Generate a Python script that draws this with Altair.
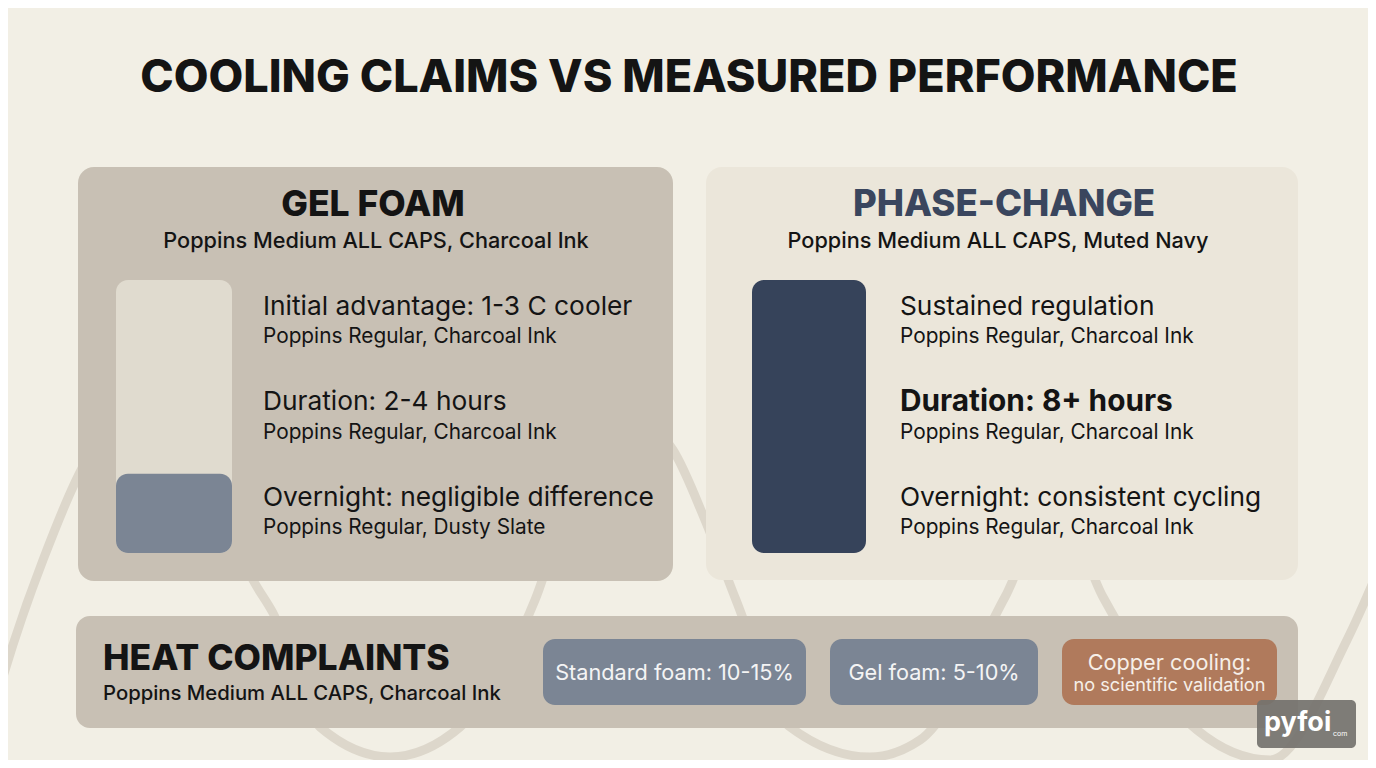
import altair as alt
import pandas as pd

W, H = 1376, 768
M = 8  # body margin of the page

BG = "#f2efe5"
TAUPE = "#c8c0b4"
CREAM = "#ebe6da"
TRACK = "#e0dbcf"
SLATE = "#7b8594"
NAVY = "#36435a"
NAVY_TXT = "#3a465e"
COPPER = "#b07a5c"
INK = "#141414"
WAVE = "#ddd7cb"
FONT = "Inter"

# ---------------------------------------------------------------- data
title = "COOLING CLAIMS VS MEASURED PERFORMANCE"

panel_names = ["GEL FOAM", "PHASE-CHANGE"]
panel_notes = ["Poppins Medium ALL CAPS, Charcoal Ink",
               "Poppins Medium ALL CAPS, Muted Navy"]
# how much of each cooling bar stays filled overnight
bar_fill = [0.29, 1.0]

gel_lines = ["Initial advantage: 1-3 C cooler", "Duration: 2-4 hours",
             "Overnight: negligible difference"]
gel_notes = ["Poppins Regular, Charcoal Ink", "Poppins Regular, Charcoal Ink",
             "Poppins Regular, Dusty Slate"]
pcm_lines = ["Sustained regulation", "Duration: 8+ hours",
             "Overnight: consistent cycling"]
pcm_notes = ["Poppins Regular, Charcoal Ink", "Poppins Regular, Charcoal Ink",
             "Poppins Regular, Charcoal Ink"]

complaint_title = "HEAT COMPLAINTS"
complaint_note = "Poppins Medium ALL CAPS, Charcoal Ink"
pill_labels = ["Standard foam: 10-15%", "Gel foam: 5-10%", "Copper cooling:"]
pill_sub = ["", "", "no scientific validation"]

# decorative background wave
wave_x = [-20, 0, 43, 100, 150, 200, 253, 273, 320, 390, 460, 535, 580, 635,
          673, 705, 736, 790, 870, 920, 1005, 1055, 1103, 1197, 1270, 1347, 1395]
wave_y = [760, 687, 560, 440, 410, 450, 580, 613, 727, 757, 727, 600, 470, 420,
          450, 520, 600, 727, 757, 740, 597, 500, 597, 730, 760, 640, 530]

# ---------------------------------------------------------------- helpers
SX = alt.Scale(domain=[M, W - M])
SY = alt.Scale(domain=[H - M, M])


def box(x0, x1, y0, y1, color, radius, opacity=1.0):
    df = pd.DataFrame({"x0": [x0], "x1": [x1], "y0": [y0], "y1": [y1]})
    return alt.Chart(df).mark_rect(
        color=color, cornerRadius=radius, opacity=opacity
    ).encode(
        alt.X("x0:Q", scale=SX, axis=None), x2="x1:Q",
        y=alt.Y("y0:Q", scale=SY, axis=None), y2="y1:Q",
    )


def label(x, y, text, size, weight=400, color=INK, align="left"):
    df = pd.DataFrame({"x": [x], "y": [y], "t": [text]})
    return alt.Chart(df).mark_text(
        font=FONT, fontSize=size, fontWeight=weight, color=color,
        align=align, baseline="middle"
    ).encode(
        alt.X("x:Q", scale=SX, axis=None),
        alt.Y("y:Q", scale=SY, axis=None),
        text="t:N",
    )


def fill_bar(x0, x1, top, bottom, frac, color):
    df = pd.DataFrame({"x0": [x0], "x1": [x1], "v": [frac]})
    return alt.Chart(df).mark_rect(color=color, cornerRadius=12).encode(
        alt.X("x0:Q", scale=SX, axis=None), x2="x1:Q",
        y=alt.Y("v:Q", axis=None,
                scale=alt.Scale(domain=[0, 1], range=[bottom - M, top - M])),
        y2=alt.datum(0),
    )


# ---------------------------------------------------------------- layers
wave_df = pd.DataFrame({"x": wave_x, "y": wave_y, "i": range(len(wave_x))})
wave = alt.Chart(wave_df).mark_line(
    color=WAVE, strokeWidth=9, interpolate="monotone", clip=True, strokeCap="round"
).encode(
    alt.X("x:Q", scale=SX, axis=None),
    alt.Y("y:Q", scale=SY, axis=None),
    order="i:Q",
)

layers = [wave]
layers.append(label(689, 78, title, 45, 800, INK, "center"))

# panels
layers += [
    box(78, 673, 167, 581, TAUPE, 16),
    box(706, 1298, 167, 580, CREAM, 16),
    box(76, 1298, 616, 728, TAUPE, 14),
]

# gel foam panel
layers.append(label(373, 205, panel_names[0], 35.5, 800, INK, "center"))
layers.append(label(376, 241, panel_notes[0], 21.7, 500, INK, "center"))
layers.append(box(116, 232, 280, 553, TRACK, 12))
layers.append(fill_bar(116, 232, 280, 553, bar_fill[0], SLATE))

# phase change panel
layers.append(label(1004, 205, panel_names[1], 36.5, 800, NAVY_TXT, "center"))
layers.append(label(998, 241, panel_notes[1], 21.7, 500, INK, "center"))
layers.append(fill_bar(752, 866, 280, 553, bar_fill[1], NAVY))

row_y = [307, 402, 498]
note_y = [337, 433, 528]
for i in range(3):
    layers.append(label(263, row_y[i], gel_lines[i], 26.3))
    layers.append(label(263, note_y[i], gel_notes[i], 20.8))
    layers.append(label(900, row_y[i], pcm_lines[i], 29.8 if i == 1 else 26.3,
                        700 if i == 1 else 400))
    layers.append(label(900, note_y[i], pcm_notes[i], 20.8))

# heat complaints strip
layers.append(label(103, 659, complaint_title, 35.5, 800))
layers.append(label(103, 694, complaint_note, 20.3, 500))

pills = [(543, 806, SLATE), (830, 1038, SLATE), (1062, 1277, COPPER)]
for (x0, x1, c), top, sub in zip(pills, pill_labels, pill_sub):
    layers.append(box(x0, x1, 639, 705, c, 12))
    cx = (x0 + x1) / 2
    if sub:
        layers.append(label(cx, 663, top, 21.7, 400, "#f6efe8", "center"))
        layers.append(label(cx, 686, sub, 18.2, 400, "#f6efe8", "center"))
    else:
        layers.append(label(cx, 673, top, 21.7, 400, "#f4f4f4", "center"))

# watermark
layers.append(box(1257, 1356, 700, 748, "#74726e", 5, 0.92))
layers.append(label(1264, 723, "pyfoi", 27, 700, "#ffffff"))
layers.append(label(1333, 734, "com", 7, 400, "#ffffff"))

chart = alt.layer(*layers).resolve_scale(
    x="independent", y="independent"
).properties(
    width=W - 2 * M, height=H - 2 * M,
    background=BG, padding=0,
    autosize=alt.AutoSizeParams(type="none"),
).configure_view(stroke=None)

chart.save("out.html", embed_options={"renderer": "svg", "actions": False})
